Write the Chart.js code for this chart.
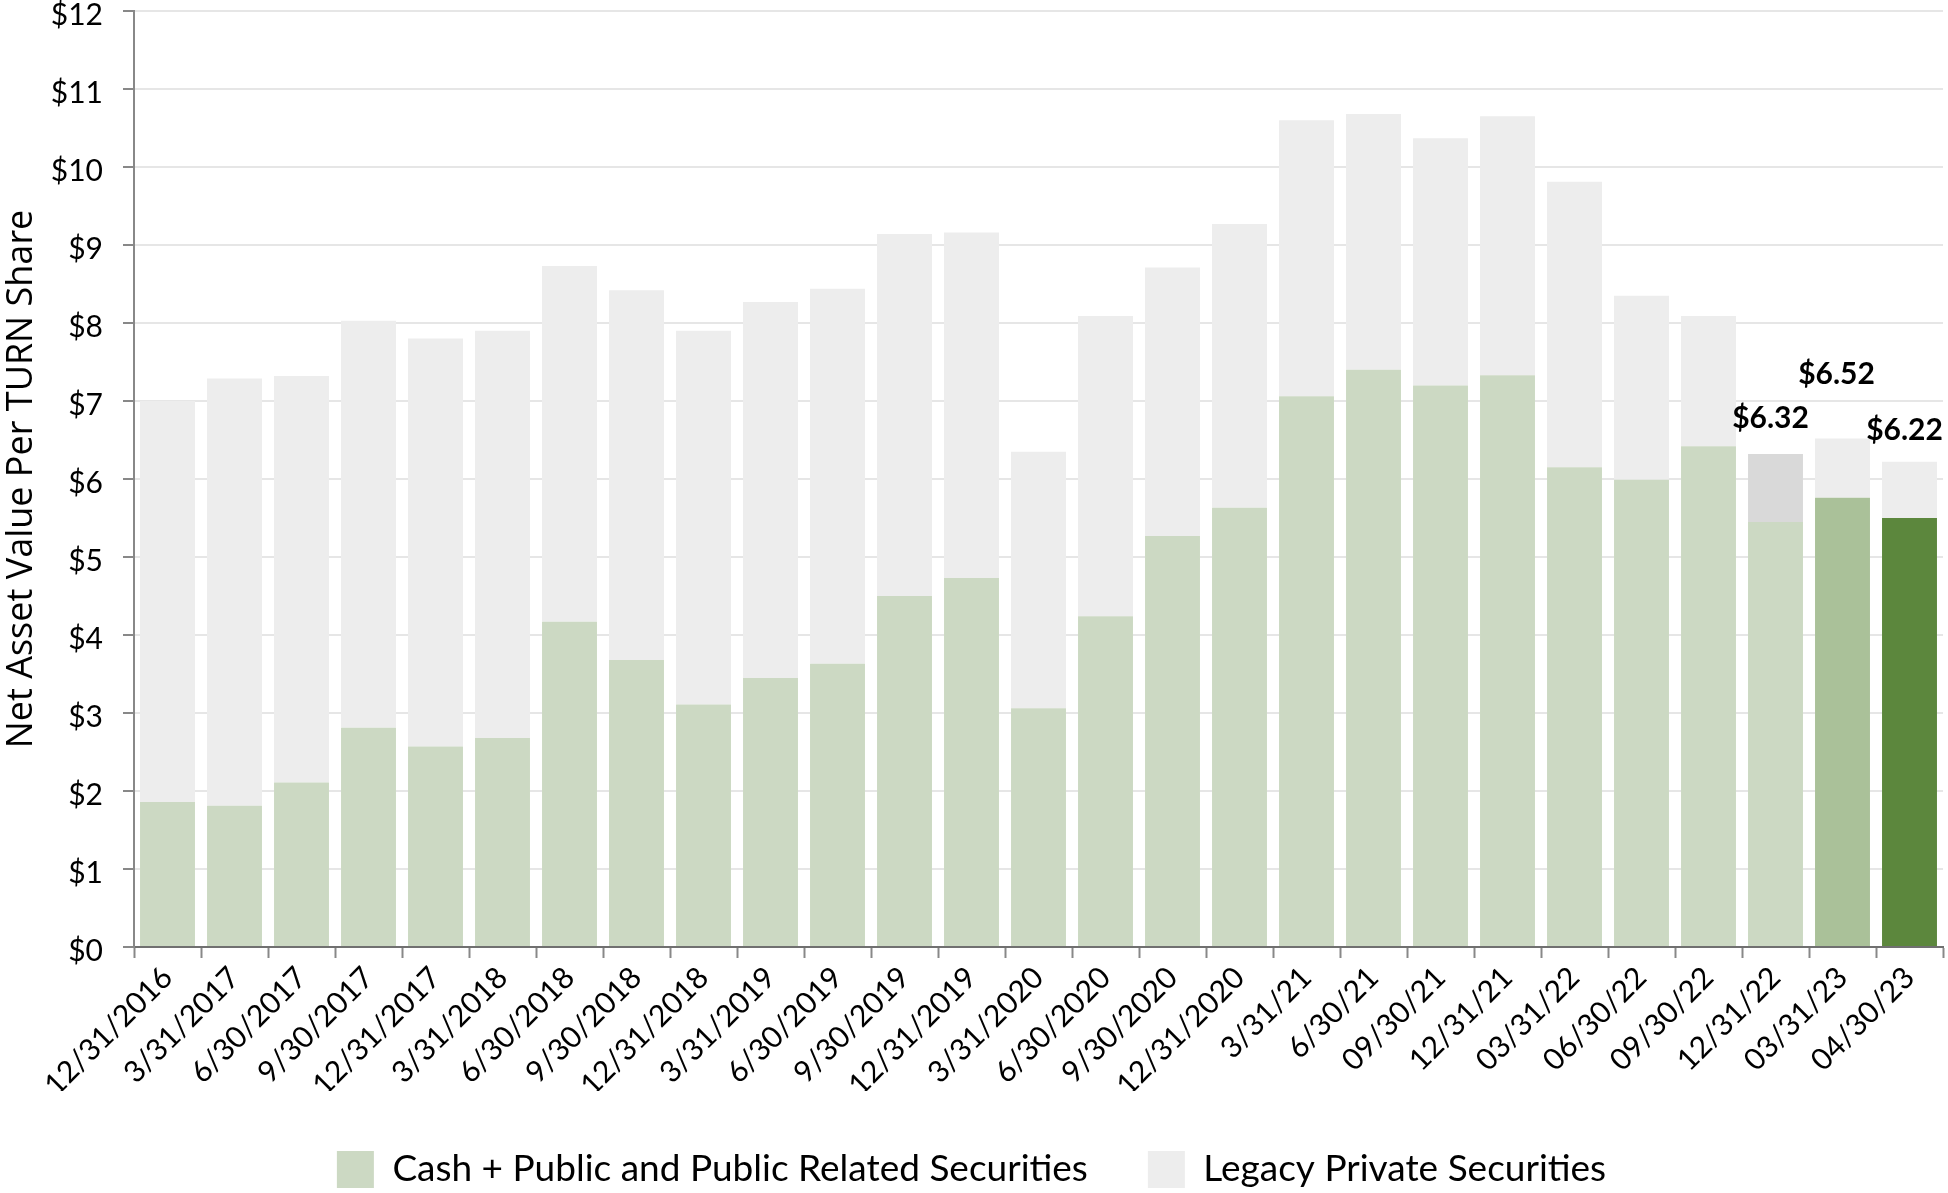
<!DOCTYPE html>
<html>
<head>
<meta charset="utf-8">
<script src="https://cdn.jsdelivr.net/npm/chart.js@4.4.1/dist/chart.umd.min.js"></script>
<style>
  html, body { margin: 0; padding: 0; background: #ffffff; }
  #wrap { width: 1948px; height: 1193px; position: relative; }
  canvas { display: block; }
</style>
</head>
<body>
<div id="wrap"><canvas id="c" width="1948" height="1193"></canvas></div>
<script>
// ---- Data ----
const categories = [
  '12/31/2016','3/31/2017','6/30/2017','9/30/2017','12/31/2017','3/31/2018',
  '6/30/2018','9/30/2018','12/31/2018','3/31/2019','6/30/2019','9/30/2019',
  '12/31/2019','3/31/2020','6/30/2020','9/30/2020','12/31/2020','3/31/21',
  '6/30/21','09/30/21','12/31/21','03/31/22','06/30/22','09/30/22',
  '12/31/22','03/31/23','04/30/23'
];
const cashPublic = [
  1.86, 1.81, 2.11, 2.81, 2.57, 2.68, 4.17, 3.68, 3.11, 3.45, 3.63, 4.50,
  4.73, 3.06, 4.24, 5.27, 5.63, 7.06, 7.40, 7.20, 7.33, 6.15, 5.99, 6.42,
  5.45, 5.76, 5.50
];
const legacyPrivate = [
  5.14, 5.48, 5.21, 5.22, 5.23, 5.22, 4.56, 4.74, 4.79, 4.82, 4.81, 4.64,
  4.43, 3.29, 3.85, 3.44, 3.64, 3.54, 3.28, 3.17, 3.32, 3.66, 2.36, 1.67,
  0.87, 0.76, 0.72
];
const totalLabels = [
  null, null, null, null, null, null, null, null, null, null, null, null,
  null, null, null, null, null, null, null, null, null, null, null, null,
  6.32, 6.52, 6.22
];
const yTicks = [0,1,2,3,4,5,6,7,8,9,10,11,12];
const seriesNames = ['Cash + Public and Public Related Securities', 'Legacy Private Securities'];

// ---- Styles ----
const GREEN_LIGHT = '#CCD9C3';
const GREEN_MID = '#AAC199';
const GREEN_DARK = '#5C873D';
const GRAY_LIGHT = '#EDEDED';
const GRAY_MID = '#D9D9D9';

const cashColors = categories.map((c, i) => i === categories.length - 1 ? GREEN_DARK : (i === categories.length - 2 ? GREEN_MID : GREEN_LIGHT));
const legacyColors = categories.map((c, i) => i === categories.length - 3 ? GRAY_MID : GRAY_LIGHT);

// label offsets (pixels above bar top, horizontal shift)
const labelOffsetY = { 24: 36, 25: 64, 26: 32 };
const labelOffsetX = { 24: -5, 25: -6, 26: -5 };

const totalLabelPlugin = {
  id: 'totalLabels',
  afterDatasetsDraw(chart) {
    const ctx = chart.ctx;
    const xs = chart.scales.x, ys = chart.scales.y;
    ctx.save();
    ctx.font = 'bold 30px Lato';
    ctx.fillStyle = '#000';
    ctx.textAlign = 'center';
    ctx.textBaseline = 'middle';
    totalLabels.forEach((v, i) => {
      if (v === null) return;
      const x = xs.getPixelForValue(i) + (labelOffsetX[i] || 0);
      const y = ys.getPixelForValue(v) - (labelOffsetY[i] || 30);
      ctx.fillText('$' + v.toFixed(2), x, y);
    });
    ctx.restore();
  }
};

function build() {
  Chart.defaults.font.family = 'Lato';
  Chart.defaults.color = '#000';
  new Chart(document.getElementById('c'), {
    type: 'bar',
    data: {
      labels: categories,
      datasets: [
        { label: seriesNames[0], data: cashPublic, backgroundColor: cashColors, borderWidth: 0 },
        { label: seriesNames[1], data: legacyPrivate, backgroundColor: legacyColors, borderWidth: 0 }
      ]
    },
    options: {
      responsive: false,
      animation: false,
      maintainAspectRatio: false,
      layout: { padding: { top: 0, right: 5, left: 0, bottom: -5 } },
      datasets: { bar: { barPercentage: 0.82, categoryPercentage: 1.0 } },
      plugins: {
        tooltip: { enabled: false },
        legend: {
          position: 'bottom',
          labels: {
            boxWidth: 37,
            boxHeight: 37,
            padding: 60,
            color: '#000',
            font: { size: 37, family: 'Lato' }
          }
        }
      },
      scales: {
        x: {
          stacked: true,
          afterFit(scale) { scale.height = 144; },
          grid: { drawOnChartArea: false, drawTicks: true, tickLength: 11, tickColor: '#888', tickWidth: 2 },
          border: { color: '#707070', width: 2 },
          ticks: { minRotation: 45, maxRotation: 45, autoSkip: false, padding: 2, font: { size: 30 }, color: '#000' }
        },
        y: {
          stacked: true,
          min: 0,
          max: 12,
          afterBuildTicks(scale) { scale.ticks = yTicks.map(v => ({ value: v })); },
          afterFit(scale) { scale.width = 134; scale.paddingTop = 11; scale.paddingBottom = 0; },
          grid: { color: '#E6E6E6', lineWidth: 2, tickLength: 11, tickColor: '#888', tickWidth: 2 },
          border: { color: '#888', width: 2 },
          ticks: { padding: 20, labelOffset: 4, font: { size: 30 }, color: '#000', callback: v => '$' + v },
          title: { display: true, text: 'Net Asset Value Per TURN Share', font: { family: 'Open Sans', size: 36 }, color: '#000', padding: { top: 0, bottom: 4 } }
        }
      }
    },
    plugins: [totalLabelPlugin]
  });
}

if (document.fonts && document.fonts.load) {
  Promise.all([
    document.fonts.load('30px Lato'),
    document.fonts.load('bold 30px Lato'),
    document.fonts.load('30px "Open Sans"')
  ]).then(build, build);
} else {
  build();
}
</script>
</body>
</html>
